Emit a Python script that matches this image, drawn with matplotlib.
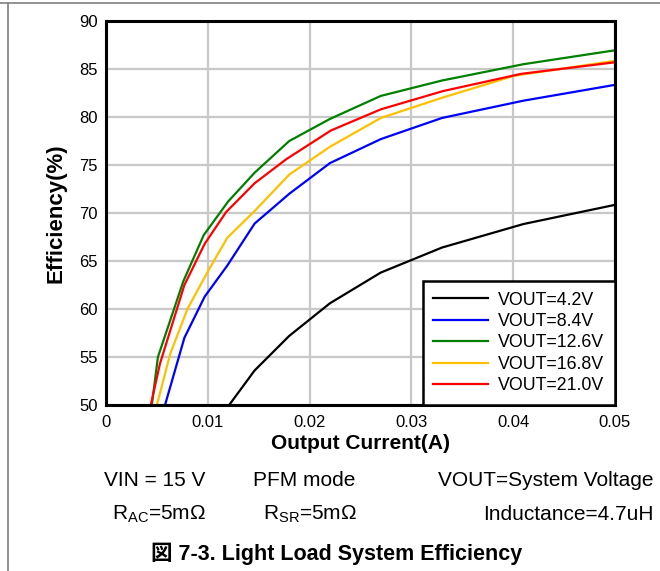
import matplotlib
matplotlib.use("Agg")
import matplotlib.pyplot as plt
from matplotlib.lines import Line2D

plt.rcParams['font.family'] = ['Liberation Sans', 'Noto Sans CJK JP', 'DejaVu Sans']
plt.rcParams['mathtext.fontset'] = 'custom'
plt.rcParams['mathtext.rm'] = 'Liberation Sans'

# datos (corrente em A, eficiencia em %)
i_42 = [0.0121, 0.0146, 0.018, 0.022, 0.027, 0.033, 0.041, 0.05]
e_42 = [50.0, 53.6, 57.2, 60.6, 63.8, 66.4, 68.85, 70.85]

i_84 = [0.0058, 0.0077, 0.0097, 0.0119, 0.0146, 0.018, 0.022, 0.027, 0.033, 0.041, 0.05]
e_84 = [50.0, 57.0, 61.3, 64.5, 68.9, 72.0, 75.2, 77.7, 79.9, 81.7, 83.35]

i_126 = [0.0045, 0.0051, 0.0076, 0.0096, 0.012, 0.0146, 0.018, 0.022, 0.027, 0.033, 0.041, 0.05]
e_126 = [50.0, 55.0, 62.9, 67.7, 71.2, 74.2, 77.5, 79.8, 82.2, 83.8, 85.5, 86.95]

i_168 = [0.005, 0.0063, 0.008, 0.01, 0.0119, 0.0145, 0.018, 0.022, 0.027, 0.033, 0.0401, 0.05]
e_168 = [50.0, 55.3, 60.0, 63.9, 67.4, 70.1, 74.0, 76.9, 79.9, 82.0, 84.3, 85.85]

i_210 = [0.0044, 0.0053, 0.0077, 0.0097, 0.0118, 0.0146, 0.0177, 0.0221, 0.027, 0.0331, 0.0408, 0.05]
e_210 = [50.0, 54.3, 62.5, 66.8, 70.1, 73.1, 75.6, 78.6, 80.8, 82.7, 84.5, 85.7]

labels = ["VOUT=4.2V", "VOUT=8.4V", "VOUT=12.6V", "VOUT=16.8V", "VOUT=21.0V"]
cores = ["#000000", "#0000ff", "#008000", "#ffc000", "#ff0000"]
x_ticks = [0, 0.01, 0.02, 0.03, 0.04, 0.05]
x_ticklabels = ["0", "0.01", "0.02", "0.03", "0.04", "0.05"]
y_ticks = [50, 55, 60, 65, 70, 75, 80, 85, 90]

fig = plt.figure(figsize=(6.6, 5.71), dpi=100)
ax = fig.add_axes([0.1606, 0.2907, 0.7712, 0.6725])

series = [(i_42, e_42), (i_84, e_84), (i_126, e_126), (i_168, e_168), (i_210, e_210)]
for (xs, ys), lab, c in zip(series, labels, cores):
    ax.plot(xs, ys, color=c, linewidth=1.6, label=lab)

ax.set_xlim(0, 0.05)
ax.set_ylim(50, 90)
ax.set_xticks(x_ticks)
ax.set_xticklabels(x_ticklabels)
ax.set_yticks(y_ticks)
ax.grid(True, color="#c8c8c8", linewidth=1.6)
ax.set_axisbelow(True)
for s in ax.spines.values():
    s.set_linewidth(2.2)
ax.tick_params(axis='both', length=0, labelsize=12)
ax.tick_params(axis='x', pad=7)
ax.tick_params(axis='y', pad=6)

# titulos dos eixos
ax.set_xlabel("Output Current(A)", fontsize=15, fontweight='bold', labelpad=3)
ax.set_ylabel("Efficiency(%)", fontsize=16, fontweight='bold', labelpad=9)

leg = ax.legend(loc='lower right', bbox_to_anchor=(1.0, 0.0), borderaxespad=0,
                fontsize=12.8, frameon=True, fancybox=False, framealpha=1,
                edgecolor='black', labelspacing=0.25, borderpad=0.6,
                handlelength=3.1, handletextpad=0.55)
leg.get_frame().set_linewidth(1.8)

# condicoes de teste abaixo do grafico
fs = 15
fig.text(104 / 660, 1 - 481 / 571, "VIN = 15 V", fontsize=fs, va='center', ha='left')
fig.text(253 / 660, 1 - 481 / 571, "PFM mode", fontsize=fs, va='center', ha='left')
fig.text(654 / 660, 1 - 481 / 571, "VOUT=System Voltage", fontsize=fs, va='center', ha='right')
fig.text(112 / 660, 1 - 514 / 571, r"R$_{\mathrm{AC}}$=5m$\Omega$", fontsize=fs, va='center', ha='left')
fig.text(263 / 660, 1 - 514 / 571, r"R$_{\mathrm{SR}}$=5m$\Omega$", fontsize=fs, va='center', ha='left')
fig.text(654 / 660, 1 - 514 / 571, "Inductance=4.7uH", fontsize=fs, va='center', ha='right')

fig.text(337 / 660, 1 - 554 / 571, "図 7-3. Light Load System Efficiency",
         fontsize=15.5, fontweight='bold', va='center', ha='center')

# bordas da pagina
fig.add_artist(Line2D([0, 1], [1 - 3 / 571, 1 - 3 / 571], transform=fig.transFigure,
                      color="#808080", linewidth=1.2))
fig.add_artist(Line2D([8 / 660, 8 / 660], [0, 1 - 3 / 571], transform=fig.transFigure,
                      color="#808080", linewidth=1.2))

fig.savefig("out.png", dpi=100)
